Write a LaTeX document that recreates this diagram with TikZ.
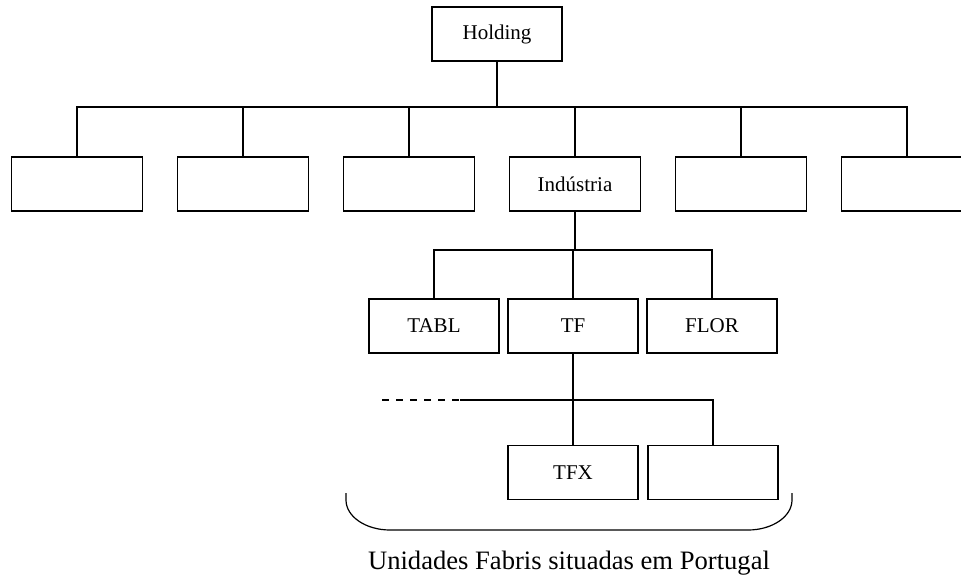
\documentclass[tikz,border=0pt]{standalone}
\usepackage{fontspec}
\setmainfont{Liberation Serif}
\begin{document}
\begin{tikzpicture}[x=1pt,y=-1pt,
  unit/.style={draw, line width=1.2pt, minimum width=131pt, minimum height=54pt,
    inner sep=0pt, font=\fontsize{21}{25}\selectfont},
  link/.style={line width=1.2pt}]
\useasboundingbox (0,0) rectangle (961,576);
\clip (0,0) rectangle (961,576);

% top of the group
\node[unit, minimum width=130pt] (hold) at (497,34) {Holding};

% business areas
\node[unit] (a1) at (77,184) {};
\node[unit] (a2) at (243,184) {};
\node[unit] (a3) at (409,184) {};
\node[unit] (ind) at (575,184) {Indústria};
\node[unit] (a5) at (741,184) {};
\node[unit] (a6) at (907,184) {};

\coordinate (bus1) at (497,107);
\draw[link] (hold.south) -- (bus1);
\draw[link] (a1.north) |- (bus1) -| (a6.north);
\foreach \n in {a2,a3,ind,a5} \draw[link] (\n.north) -- (\n.north |- bus1);

% industrial companies
\node[unit, minimum width=130pt] (tabl) at (434,326) {TABL};
\node[unit, minimum width=130pt] (tf) at (573,326) {TF};
\node[unit, minimum width=130pt] (flor) at (712,326) {FLOR};

\coordinate (bus2) at (575,250);
\draw[link] (ind.south) -- (bus2);
\draw[link] (tabl.north) |- (bus2) -| (flor.north);
\draw[link] (tf.north) -- (tf.north |- bus2);

% plants
\node[unit, minimum width=130pt] (tfx) at (573,472.5) {TFX};
\node[unit, minimum width=130pt] (p2) at (713,472.5) {};

\coordinate (bus3) at (573,400);
\coordinate (dashstart) at (382,400);
\coordinate (dashend) at (460,400);
\draw[link] (tf.south) -- (tfx.north);
\draw[link] (dashend) -| (p2.north);
\draw[link, dash pattern=on 7pt off 7pt] (dashstart) -- (dashend);

% brace under the plants
\draw[link] (346,493) -- (346,500) arc[start angle=180, end angle=90, x radius=44, y radius=30]
  -- (748,530) arc[start angle=90, end angle=0, x radius=44, y radius=30] -- (792,493);
\node[anchor=base, font=\fontsize{26.6}{32}\selectfont, inner sep=0pt] (lbl) at (569,569)
  {Unidades Fabris situadas em Portugal};
\end{tikzpicture}
\end{document}
